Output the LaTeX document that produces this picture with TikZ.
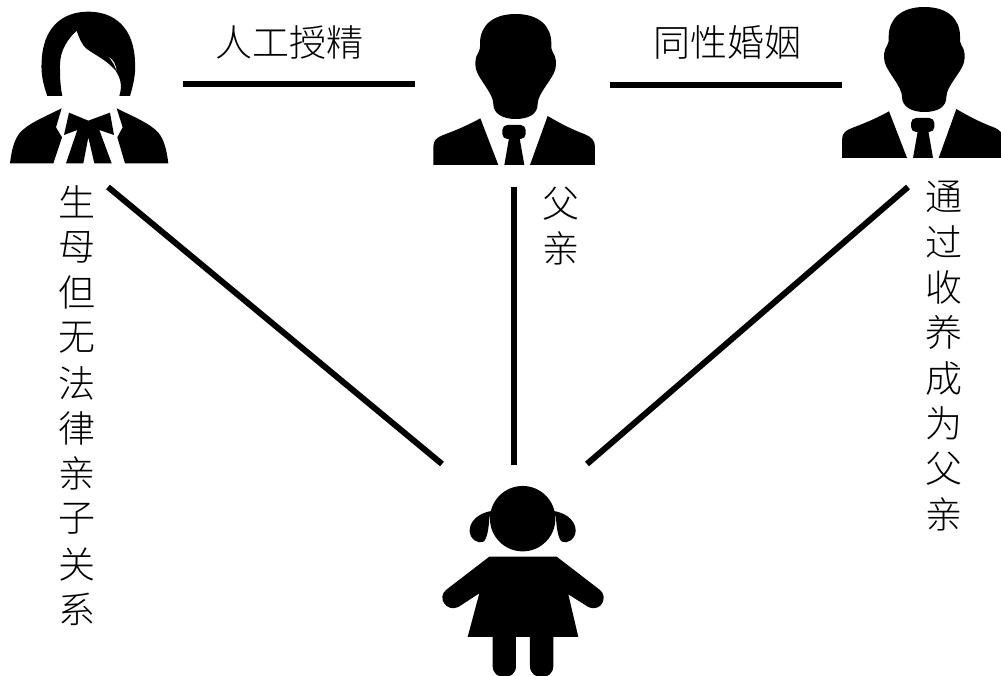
\documentclass[tikz,border=0pt]{standalone}
\usepackage{fontspec}
\newfontfamily\cjk[UprightFont=* Light]{Noto Sans CJK SC}
\tikzset{
  link/.style={line width=6pt,black},
  lbl/.style={font=\cjk\fontsize{37}{37}\selectfont,inner sep=0pt,text=black,anchor=center},
  sil/.style={fill=black,draw=none},
  man/.pic={
    \begin{scope}[x=0.3333pt,y=-0.3333pt]
      \fill[sil] (272,12) .. controls (200,12) and (165,50) .. (165,100) .. controls (165,112) and (166,120) .. (160,128)
        .. controls (151,140) and (149,160) .. (153,178) .. controls (162,210) and (205,250) .. (205,282)
        .. controls (205,312) and (235,327) .. (272,327) .. controls (312,327) and (338,312) .. (338,282)
        .. controls (338,250) and (382,210) .. (391,178) .. controls (395,160) and (393,140) .. (384,128)
        .. controls (378,120) and (379,112) .. (379,100) .. controls (379,50) and (344,12) .. (272,12) -- cycle;
      \fill[sil] (166,325) -- (220,465) -- (25,465) -- (25,410) .. controls (25,392) and (35,382) .. (55,375) .. controls (95,360) and (130,345) .. (166,325) -- cycle;
      \fill[sil] (368,318) -- (315,465) -- (510,465) -- (510,410) .. controls (510,392) and (498,380) .. (480,373) .. controls (440,358) and (405,340) .. (368,318) -- cycle;
      \fill[sil,rounded corners=5pt] (232,345) rectangle (302,387);
      \fill[sil] (252,385) -- (284,385) -- (298,465) -- (238,465) -- cycle;
    \end{scope}
  }
}
\begin{document}
\begin{tikzpicture}[x=1pt,y=-1pt]
\useasboundingbox[fill=white] (0,0) rectangle (1001,676);
% named line ends
\coordinate (a1) at (183,84);   \coordinate (a2) at (415,84);
\coordinate (b1) at (610,85);   \coordinate (b2) at (842,85);
\coordinate (c1) at (108,187);  \coordinate (c2) at (442,464);
\coordinate (d1) at (514,187);  \coordinate (d2) at (514,465);
\coordinate (e1) at (908,187);  \coordinate (e2) at (587,464);
\draw[link] (a1) -- (a2);
\draw[link] (b1) -- (b2);
\draw[link] (c1) -- (c2);
\draw[link] (d1) -- (d2);
\draw[link] (e1) -- (e2);
% woman
\begin{scope}[x=0.3333pt,y=-0.3333pt]
  \fill[sil] (142,288) .. controls (130,255) and (122,220) .. (125,185) .. controls (128,85) and (185,35) .. (265,35)
    .. controls (345,35) and (402,85) .. (405,185) .. controls (408,220) and (400,255) .. (390,288) -- (358,288)
    .. controls (366,262) and (365,240) .. (347,212) .. controls (320,180) and (285,165) .. (262,148)
    .. controls (245,135) and (238,115) .. (230,92) .. controls (205,115) and (180,150) .. (180,195)
    .. controls (180,225) and (180,255) .. (187,288) -- cycle;
  \fill[white] (327,172) .. controls (340,178) and (348,195) .. (350,212) .. controls (344,195) and (336,182) .. (327,172) -- cycle;
  \fill[sil] (185,325) -- (168,382) -- (186,412) -- (160,490) -- (30,490) .. controls (35,450) and (42,420) .. (60,398) .. controls (85,370) and (135,350) .. (185,325) -- cycle;
  \fill[sil] (350,325) -- (368,382) -- (352,412) -- (375,490) -- (505,490) .. controls (500,450) and (493,420) .. (475,398) .. controls (450,370) and (400,350) .. (350,325) -- cycle;
  \fill[sil] (207,338) -- (265,362) -- (330,338) -- (342,405) -- (298,390) -- (335,490) -- (283,490) -- (265,412) -- (250,490) -- (198,490) -- (232,390) -- (192,405) -- cycle;
\end{scope}
% men
\pic at (425,10) {man};
\pic at (833.7,3) {man};
% girl
\begin{scope}[shift={(430,476)},x=0.3333pt,y=-0.3333pt]
  \fill[sil] (278,128) circle[radius=32.7pt];
  \fill[sil] (185,105) .. controls (140,112) and (118,140) .. (119,165) .. controls (120,190) and (145,205) .. (160,197) .. controls (172,190) and (177,150) .. (178,125) -- cycle;
  \fill[sil] (371,105) .. controls (416,112) and (438,140) .. (437,165) .. controls (436,190) and (411,205) .. (396,197) .. controls (384,190) and (379,150) .. (378,125) -- cycle;
  \fill[sil] (178,242) -- (380,242) -- (510,342) .. controls (535,362) and (515,410) .. (475,393) -- (415,355) -- (445,483) -- (370,483) -- (370,570) .. controls (370,615) and (300,615) .. (300,570) -- (300,483) -- (258,483) -- (258,570) .. controls (258,615) and (188,615) .. (188,570) -- (188,483) -- (113,483) -- (148,352) -- (85,393) .. controls (50,410) and (20,365) .. (48,342) -- cycle;
\end{scope}
% labels
\node[lbl] (t1) at (289.5,42) {人工授精};
\node[lbl] (t2) at (727.5,42) {同性婚姻};
\foreach \c [count=\i from 0] in {生,母,但,无,法,律,亲,子,关,系}
  \node[lbl] (l\i) at (77,{202+45.3*\i}) {\c};
\foreach \c [count=\i from 0] in {父,亲}
  \node[lbl] (m\i) at (561,{204+44*\i}) {\c};
\foreach \c [count=\i from 0] in {通,过,收,养,成,为,父,亲}
  \node[lbl] (r\i) at (944,{197+45.3*\i}) {\c};
\end{tikzpicture}
\end{document}
